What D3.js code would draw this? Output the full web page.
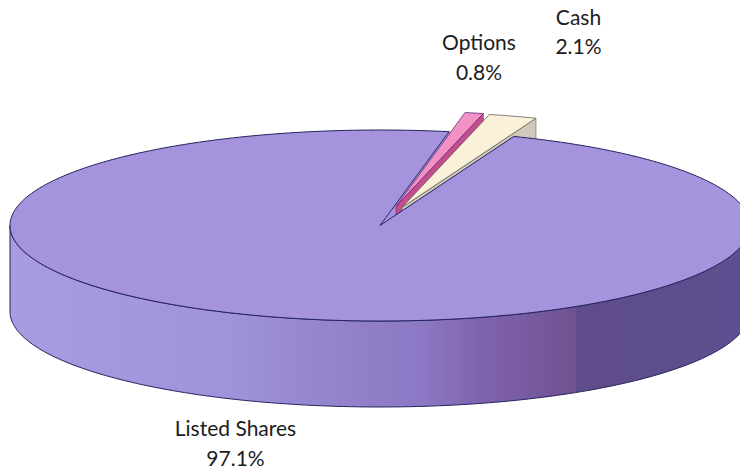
<!DOCTYPE html>
<html>
<head>
<meta charset="utf-8">
<script src="https://cdn.jsdelivr.net/npm/d3@7"></script>
<style>
  html, body { margin: 0; padding: 0; background: #fff; }
  svg { display: block; }
  .label { font-family: Lato, "Open Sans", sans-serif; font-size: 21px; fill: #1c1c1c; text-anchor: middle; }
</style>
</head>
<body>
<div id="chart"></div>
<script>
// Data
const categories = ['Listed Shares', 'Options', 'Cash'];
const shares = [97.1, 0.8, 2.1];
const shareLabels = ['97.1%', '0.8%', '2.1%'];

class Pie3D {

  constructor(_config) {
    this.config = {
      parentElement: _config.parentElement,
      containerWidth: 740,
      containerHeight: 470,
      centerX: 380,
      centerY: 225.5,
      radiusX: 370,
      radiusY: 95.5,
      depth: 86,
      startDegrees: 21.2,
      explode: [0, 0.205, 0.2]
    }
    this.initVis();
  }

  initVis() {
    let vis = this;
    const c = vis.config;

    vis.svg = d3.select(c.parentElement).append('svg')
      .attr('width', c.containerWidth)
      .attr('height', c.containerHeight);

    // Unit circle to screen, the disc is a squashed circle
    vis.xScale = d3.scaleLinear().domain([-1, 1]).range([c.centerX - c.radiusX, c.centerX + c.radiusX]);
    vis.yScale = d3.scaleLinear().domain([-1, 1]).range([c.centerY - c.radiusY, c.centerY + c.radiusY]);

    const start = c.startDegrees * Math.PI / 180;
    vis.pie = d3.pie().sort(null).startAngle(start).endAngle(start + 2 * Math.PI);

    vis.line = d3.line().x(d => d[0]).y(d => d[1]);

    // Side wall shading, lit from the left with a hard step near the right
    const grad = vis.svg.append('defs').append('linearGradient')
      .attr('id', 'wall')
      .attr('gradientUnits', 'userSpaceOnUse')
      .attr('x1', 0).attr('x2', c.containerWidth)
      .attr('y1', 0).attr('y2', 0);
    [[0, '#a99ce2'], [0.32, '#9f92da'], [0.45, '#9483cd'], [0.57, '#8c78c4'], [0.65, '#7f63ae'],
     [0.778, '#70528f'], [0.778, '#5f4c8a'], [1, '#5e4f90']].forEach(s => {
      grad.append('stop').attr('offset', s[0]).attr('stop-color', s[1]);
    });

    vis.renderVis();
  }

  // Point on the disc at a pie angle (0 = up, clockwise), r in unit radii
  point(angle, r, slice, drop) {
    let vis = this;
    const mid = (slice.startAngle + slice.endAngle) / 2;
    const shift = vis.config.explode[slice.index];
    return [
      vis.xScale(r * Math.sin(angle) + shift * Math.sin(mid)),
      vis.yScale(-r * Math.cos(angle) - shift * Math.cos(mid)) + drop
    ];
  }

  rim(slice, a0, a1, drop) {
    let vis = this;
    const n = Math.max(2, Math.ceil((a1 - a0) / 0.02));
    return d3.range(n + 1).map(i => vis.point(a0 + (a1 - a0) * i / n, 1, slice, drop));
  }

  renderVis() {
    let vis = this;
    const c = vis.config;
    const arcs = vis.pie(shares);
    const [listed, options, cash] = arcs;
    const outline = '#24235e';
    const full = Math.PI * 2;

    const topPath = s => vis.line([vis.point(0, 0, s, 0), ...vis.rim(s, s.startAngle, s.endAngle, 0)]) + 'Z';
    // Cut face on the clockwise end of a wedge
    const facePath = s => vis.line([
      vis.point(0, 0, s, 0), vis.point(s.endAngle, 1, s, 0),
      vis.point(s.endAngle, 1, s, c.depth), vis.point(0, 0, s, c.depth)
    ]) + 'Z';

    // Floor of the notch, shows at the tip where the wedges have moved out
    vis.svg.append('path').attr('d', topPath({ ...listed, startAngle: listed.endAngle, endAngle: listed.endAngle + full - (listed.endAngle - listed.startAngle) }))
      .attr('fill', '#a594dd');

    // Exploded wedges go first, the disc covers what sits behind it
    vis.svg.append('path').attr('d', facePath(options))
      .attr('fill', '#c34d8e').attr('stroke', '#7a2d6c').attr('stroke-width', 0.7);
    vis.svg.append('path').attr('d', topPath(options))
      .attr('fill', '#f291c4').attr('stroke', '#6a2a78').attr('stroke-width', 0.8);
    vis.svg.append('path').attr('d', facePath(cash))
      .attr('fill', '#cfc9bd').attr('stroke', '#77736c').attr('stroke-width', 0.7);
    vis.svg.append('path').attr('d', topPath(cash))
      .attr('fill', '#fbf1d9').attr('stroke', '#55524a').attr('stroke-width', 0.7);

    // Side wall: the front half of the rim, dropped by the depth
    const wall = [
      ...vis.rim(listed, full / 4, full * 3 / 4, 0),
      ...vis.rim(listed, full / 4, full * 3 / 4, c.depth).reverse()
    ];
    vis.svg.append('path').attr('d', vis.line(wall) + 'Z')
      .attr('fill', 'url(#wall)').attr('stroke', outline).attr('stroke-width', 1);

    // Top of the main slice
    vis.svg.append('path').attr('d', topPath(listed))
      .attr('fill', '#a594dd').attr('stroke', outline).attr('stroke-width', 1);

    // Labels
    const labelPos = [[235.5, 436, 466], [479, 50, 80], [578.5, 25, 54]];
    categories.forEach((name, i) => {
      vis.svg.append('text').attr('class', 'label')
        .attr('x', labelPos[i][0]).attr('y', labelPos[i][1]).text(name);
      vis.svg.append('text').attr('class', 'label')
        .attr('x', labelPos[i][0]).attr('y', labelPos[i][2]).text(shareLabels[i]);
    });
  }
}

new Pie3D({ parentElement: '#chart' });
</script>
</body>
</html>
